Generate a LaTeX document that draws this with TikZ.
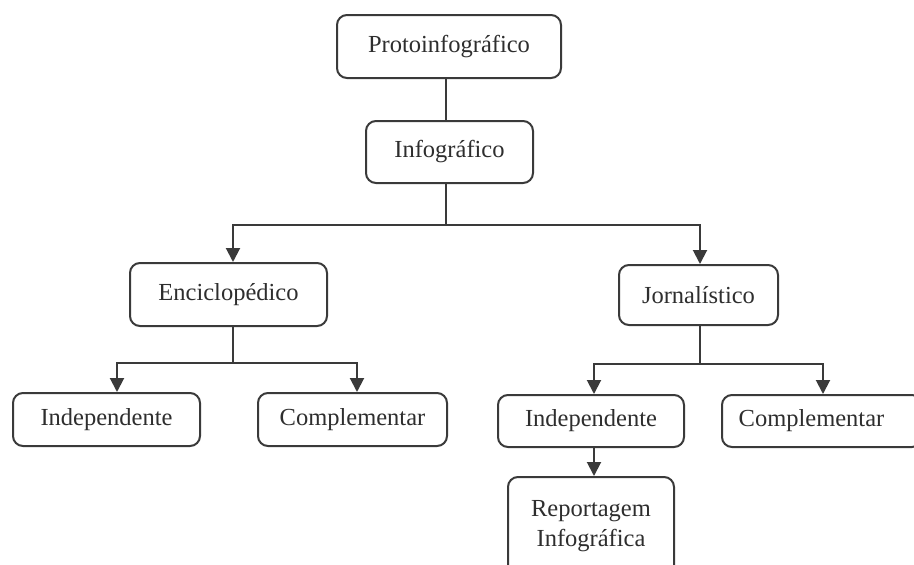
\documentclass[tikz,border=0pt]{standalone}
\usepackage{fontspec}
\setmainfont{Liberation Serif}
\usetikzlibrary{arrows.meta}
\definecolor{linegray}{HTML}{3A3A3A}
\definecolor{textgray}{HTML}{2E2E2E}
\begin{document}
\begin{tikzpicture}[x=1pt,y=-1pt,
  box/.style={draw=linegray, line width=2pt, rounded corners=10pt,
    inner sep=0pt, text=textgray, font=\fontsize{24.5}{30}\selectfont, align=center},
  link/.style={draw=linegray, line width=2pt},
  arr/.style={link, -{Triangle[width=14pt,length=14pt]}}]
\useasboundingbox (0,0) rectangle (914,565);
\clip (0,0) rectangle (914,565);
\fill[white] (0,0) rectangle (914,565);

% boxes
\node[box, minimum width=224pt, minimum height=63pt] (proto) at (449,46.5) {Protoinfográfico};
\node[box, minimum width=167pt, minimum height=62pt] (info) at (449.5,152) {Infográfico};
\node[box, minimum width=197pt, minimum height=63pt] (enc) at (228.5,294.5) {Enciclopédico};
\node[box, minimum width=159pt, minimum height=60pt] (jorn) at (698.5,295) {Jornalístico};
\node[box, minimum width=187pt, minimum height=53pt] (indL) at (106.5,419.5) {Independente};
\node[box, minimum width=189pt, minimum height=53pt] (compL) at (352.5,419.5) {Complementar};
\node[box, minimum width=186pt, minimum height=52pt] (indR) at (591,421) {Independente};
\node[box, minimum width=200pt, minimum height=52pt] (compR) at (822,421) {Complementar\hspace*{21pt}};
\node[box, minimum width=166pt, minimum height=99pt] (rep) at (591,526.5) {Reportagem\\Infográfica};

% branch points
\coordinate (b0) at (446,225);
\coordinate (b1) at (233,363);
\coordinate (b2) at (700,364);

% connectors
\draw[link] (proto.south -| b0) -- (info.north -| b0);
\draw[link] (info.south -| b0) -- (b0);
\draw[arr] (b0) -| ([xshift=4.5pt]enc.north);
\draw[arr] (b0) -| ([xshift=1.5pt]jorn.north);

\draw[link] ([xshift=4.5pt]enc.south) -- (b1);
\draw[arr] (b1) -| ([xshift=10.5pt]indL.north);
\draw[arr] (b1) -| ([xshift=4.5pt]compL.north);

\draw[link] ([xshift=1.5pt]jorn.south) -- (b2);
\draw[arr] (b2) -| ([xshift=3pt]indR.north);
\draw[arr] (b2) -| ([xshift=1pt]compR.north);

\draw[arr] ([xshift=3pt]indR.south) -- ([xshift=3pt]rep.north);
\end{tikzpicture}
\end{document}
